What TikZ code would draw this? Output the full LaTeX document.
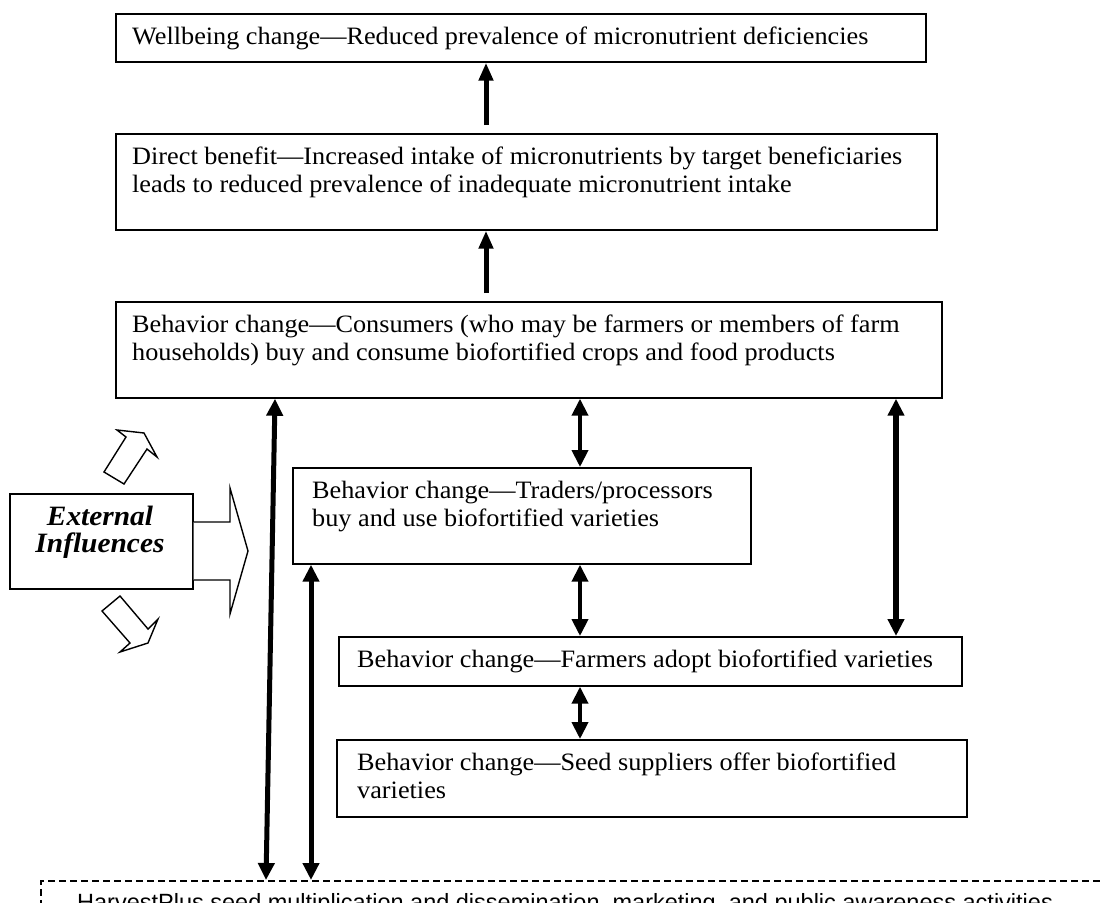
\documentclass[tikz,border=0pt]{standalone}
\usepackage{fontspec}
\setmainfont{Liberation Serif}[FakeStretch=1.05]
\newfontfamily\plainsans{Liberation Sans}
\usetikzlibrary{arrows.meta}

\tikzset{
  frame/.style={draw, line width=1.7pt, anchor=north west, inner sep=0pt},
  label/.style={anchor=north west, align=left, inner sep=0pt, font=\fontsize{25}{28}\selectfont},
  up/.style={line width=5pt, -{Triangle[length=18pt,width=14pt]}},
  both/.style={line width=4pt, {Triangle[length=17pt,width=16pt]}-{Triangle[length=17pt,width=16pt]}},
  blockarrow/.style={draw, line width=1.4pt, line join=miter, fill=white}
}

\begin{document}
\begin{tikzpicture}[x=1pt,y=-1pt]
\useasboundingbox (0,0) rectangle (1104,903);
\clip (0,0) rectangle (1104,903);

\node[frame, minimum width=810pt, minimum height=48pt] (well) at (115,13) {};
\node[frame, minimum width=821pt, minimum height=96pt] (direct) at (115,133) {};
\node[frame, minimum width=826pt, minimum height=96pt] (cons) at (115,301) {};
\node[frame, minimum width=458pt, minimum height=96pt] (trad) at (292,467) {};
\node[frame, minimum width=623pt, minimum height=49pt] (farm) at (338,636) {};
\node[frame, minimum width=630pt, minimum height=77pt] (seed) at (336,739) {};
\node[frame, minimum width=183pt, minimum height=95pt] (ext) at (9,493) {};
\node[draw, line width=1.5pt, dash pattern=on 7pt off 4pt, anchor=north west, minimum width=1100pt, minimum height=80pt] (plan) at (40,880) {};

\node[label] (welltxt) at (132,27) {Wellbeing change---Reduced prevalence of micronutrient deficiencies};
\node[label] (directtxt) at (132,147) {Direct benefit---Increased intake of micronutrients by target beneficiaries\\leads to reduced prevalence of inadequate micronutrient intake};
\node[label] (constxt) at (132,315) {Behavior change---Consumers (who may be farmers or members of farm\\households) buy and consume biofortified crops and food products};
\node[label] (tradtxt) at (312,481) {Behavior change---Traders/processors\\buy and use biofortified varieties};
\node[label] (farmtxt) at (357,650) {Behavior change---Farmers adopt biofortified varieties};
\node[label] (seedtxt) at (357,753) {Behavior change---Seed suppliers offer biofortified\\varieties};
\node[align=center, inner sep=0pt, font=\fontsize{28}{27}\selectfont\bfseries\itshape] (exttxt) at (100,532) {External\\Influences};
\node[anchor=north west, inner sep=0pt, font=\plainsans\fontsize{23.5}{26}\selectfont] (plantxt) at (77,893) {HarvestPlus seed multiplication and dissemination, marketing, and public awareness activities};

\draw[up, shorten <=8pt] (direct.north -| 486,0) -- (well.south -| 486,0);
\draw[up, shorten <=8pt] (cons.north -| 486,0) -- (direct.south -| 486,0);

\draw[both] (cons.south -| 580,0) -- (trad.north -| 580,0);
\draw[both] (trad.south -| 580,0) -- (farm.north -| 580,0);
\draw[both] (farm.south -| 580,0) -- (seed.north -| 580,0);
\draw[both, line width=6.5pt] (cons.south -| 896,0) -- (farm.north -| 896,0);
\draw[both, line width=5pt] (cons.south -| 275,0) -- (plan.north -| 266,0);
\draw[both, line width=5pt] (trad.south -| 311,0) -- (plan.north -| 311,0);

\draw[blockarrow] (ext.east |- 0,522) -- (230,522) -- (230,488) -- (248,551) -- (230,614) -- (230,580) -- (ext.east |- 0,580);
\draw[blockarrow] (104,472) -- (126,437) -- (117,430) -- (144,433) -- (157,457) -- (147,449) -- (124,484) -- cycle;
\draw[blockarrow] (102,611) -- (120,596) -- (148,629) -- (158,619) -- (148,643) -- (120,652) -- (130,643) -- cycle;
\end{tikzpicture}
\end{document}
